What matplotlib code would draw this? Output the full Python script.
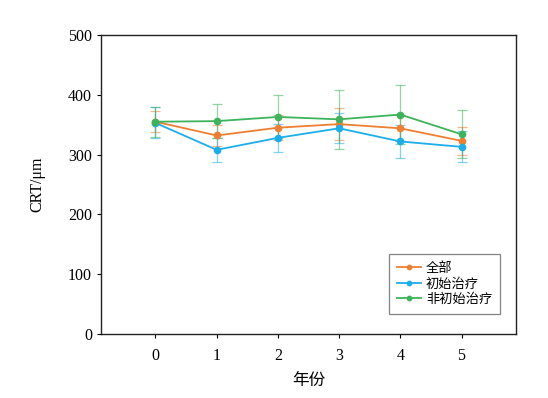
import matplotlib
matplotlib.use("Agg")
import matplotlib.pyplot as plt

years = [0, 1, 2, 3, 4, 5]
labels = ["全部", "初始治疗", "非初始治疗"]
all_mean = [355, 332, 345, 351, 344, 323]
all_err = [18, 18, 21, 27, 22, 24]
init_mean = [353, 308, 328, 344, 322, 313]
init_err = [26, 20, 23, 25, 27, 26]
non_mean = [355, 356, 363, 359, 367, 334]
non_err = [25, 29, 36, 49, 50, 40]
colors = ["#EE7F32", "#1CAEEA", "#3DB35B"]

serif = ["Liberation Serif", "DejaVu Serif"]
cjk = ["Noto Sans CJK SC", "DejaVu Sans"]

fig = plt.figure(figsize=(5.48, 3.98), dpi=100)
ax = fig.add_axes([0.1843, 0.1608, 0.7573, 0.7512])

series = [(all_mean, all_err), (init_mean, init_err), (non_mean, non_err)]
for (m, e), c, lab in zip(series, colors, labels):
    ax.errorbar(years, m, yerr=e, fmt='none', ecolor=c, elinewidth=0.9,
                capsize=3.5, capthick=0.9, alpha=0.55, zorder=2)
    ax.plot(years, m, color=c, lw=1.3, marker='o', ms=4.5, label=lab, zorder=3)

ax.set_xlim(-0.89, 5.89)
ax.set_ylim(0, 500)
ax.set_xticks(years)
ax.set_yticks([0, 100, 200, 300, 400, 500])
ax.tick_params(axis='both', direction='out', length=3, width=0.8, labelsize=11.5)
ax.tick_params(axis='x', pad=7)
for lbl in ax.get_xticklabels() + ax.get_yticklabels():
    lbl.set_family(serif)
for sp in ax.spines.values():
    sp.set_linewidth(1.0)
    sp.set_color('#222222')

ax.set_ylabel("CRT/μm", family=serif, fontsize=11.5, labelpad=16)
ax.set_xlabel("年份", family=cjk, fontsize=12, labelpad=6)

leg = ax.legend(loc='lower right', bbox_to_anchor=(0.9614, 0.067), borderaxespad=0,
                prop={'family': cjk, 'size': 9.5},
                frameon=True, fancybox=False, edgecolor='#666666', handlelength=1.8,
                labelspacing=0.2, borderpad=0.6, handletextpad=0.4, markerscale=0.7)
leg.get_frame().set_linewidth(0.9)

fig.savefig("out.png", dpi=100)
